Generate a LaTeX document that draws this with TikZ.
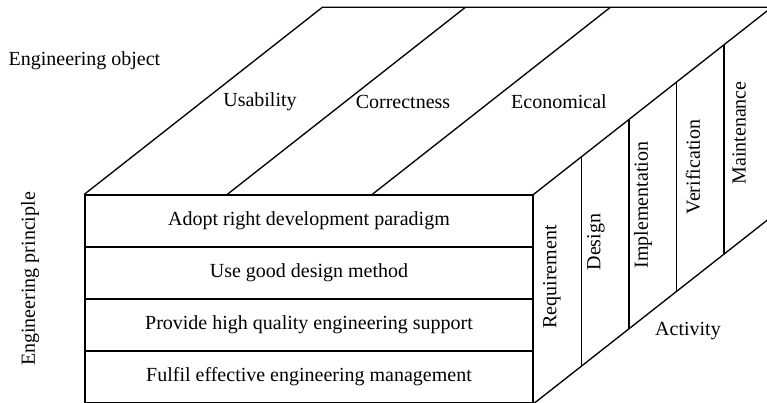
\documentclass[tikz,border=0pt]{standalone}
\usepackage{fontspec}
\setmainfont{Liberation Serif}
\tikzstyle{layer} = [rectangle, draw, minimum width=336pt, minimum height=39pt, inner sep=0pt, node distance=39pt]
\tikzstyle{tag} = [inner sep=0pt]
\tikzstyle{stage} = [rotate=90, inner sep=0pt]
\tikzstyle{divider} = [draw]
\begin{document}
\begin{tikzpicture}[x=0.75pt, y=-0.75pt, line width=1pt, font=\fontsize{15}{18}\selectfont]
	\useasboundingbox (0,0) rectangle (767,403);
	\node [layer] (adopt) at (309,221) {Adopt right development paradigm};
	\node [layer, below of=adopt] (usegood) {Use good design method};
	\node [layer, below of=usegood] (provide) {Provide high quality engineering support};
	\node [layer, below of=provide] (fulfil) {Fulfil effective engineering management};
	\coordinate (backleft) at ([shift={(238,-187)}]adopt.north west);
	\coordinate (backright) at ([shift={(238,-187)}]adopt.north east);
	\coordinate (backbottom) at ([shift={(238,-187)}]fulfil.south east);
	\draw (adopt.north west) -- (backleft) -- (backright) -- (adopt.north east);
	\draw (backright) -- (backbottom) -- (fulfil.south east);
	\foreach \dx in {143,288}
		\path [divider] ([shift={(\dx,0)}]adopt.north west) -- ++(238,-187);
	\foreach \k in {1,...,4}
		\path [divider] ([shift={(47.6*\k,-37.4*\k)}]adopt.north east) -- ([shift={(47.6*\k,-37.4*\k)}]fulfil.south east);
	\node [tag, anchor=west] (object) at (8,61) {Engineering object};
	\node [stage] (principle) at (30,279) {Engineering principle};
	\node [tag] (usability) at (260,102) {Usability};
	\node [tag] (correctness) at (403,102) {Correctness};
	\node [tag] (economical) at (559,102) {Economical};
	\node [stage] (requirement) at (552,277) {Requirement};
	\node [stage] (design) at (596,242) {Design};
	\node [stage] (implementation) at (643,205) {Implementation};
	\node [stage] (verification) at (693,167) {Verification};
	\node [stage] (maintenance) at (739,133) {Maintenance};
	\node [tag] (activity) at (688,331) {Activity};
\end{tikzpicture}
\end{document}
